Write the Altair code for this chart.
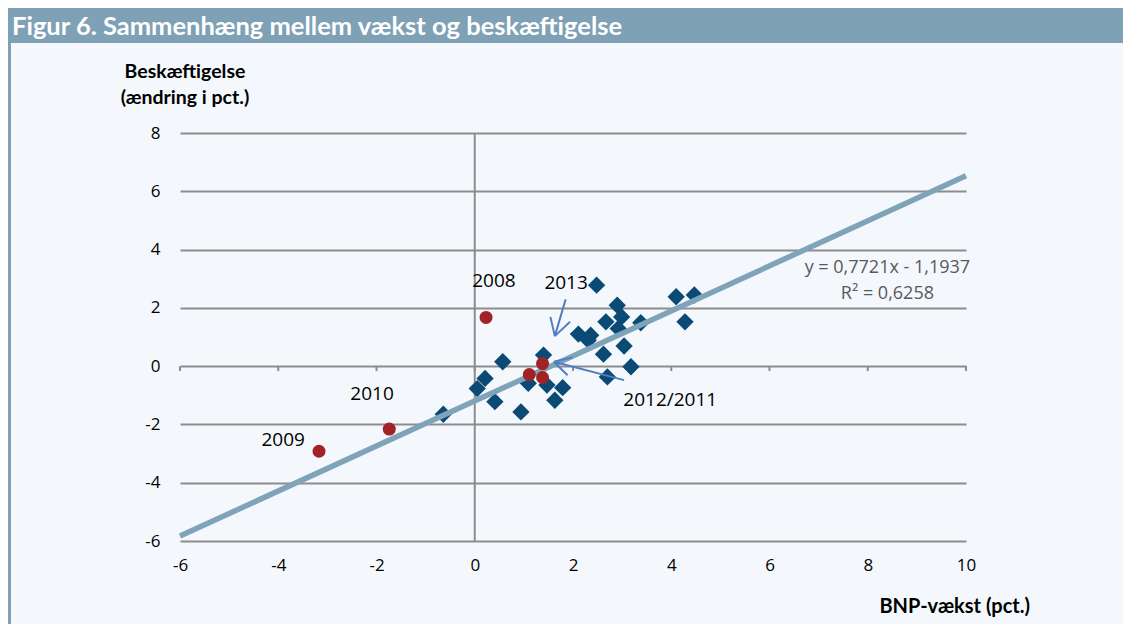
import altair as alt
import pandas as pd

# ---- data ----
blue_x = [-0.64, 0.05, 0.21, 0.41, 0.57, 0.94, 1.09, 1.40, 1.47, 1.63, 1.79, 2.11, 2.36, 2.31,
          2.48, 2.62, 2.67, 2.70, 2.90, 2.99, 2.92, 3.04, 3.18, 3.38, 4.10, 4.47, 4.28]
blue_y = [-1.65, -0.77, -0.42, -1.22, 0.15, -1.57, -0.59, 0.38, -0.65, -1.17, -0.74, 1.10, 1.06, 0.89,
          2.78, 0.41, 1.52, -0.37, 2.09, 1.69, 1.29, 0.69, -0.02, 1.49, 2.38, 2.44, 1.52]

red_x = [0.23, -3.17, -1.74, 1.11, 1.38, 1.38]
red_y = [1.67, -2.92, -2.16, -0.29, 0.09, -0.39]

reg_x = [-6, 10]
reg_y = [-5.83, 6.53]

label_text = ["2008", "2013", "2012/2011", "2010", "2009"]
label_x = [0.39, 1.86, 3.98, -2.09, -3.90]
label_y = [2.92, 2.85, -1.17, -0.96, -2.54]

eq_text = ["y = 0,7721x - 1,1937", "R² = 0,6258"]
eq_x = [8.4, 8.4]
eq_y = [3.36, 2.47]

# arrows: segments (x, y) -> (x2, y2)
arrow_x = [1.85, 1.63, 1.63, 3.04, 1.61, 1.61]
arrow_y = [2.29, 1.03, 1.03, -0.48, 0.15, 0.15]
arrow_x2 = [1.63, 1.54, 1.94, 1.61, 1.99, 1.89]
arrow_y2 = [1.03, 1.69, 1.52, 0.15, 0.30, -0.31]

x_ticks = [-6, -4, -2, 0, 2, 4, 6, 8, 10]
y_ticks = [-6, -4, -2, 0, 2, 4, 6, 8]

TITLE = "Figur 6. Sammenhæng mellem vækst og beskæftigelse"
Y_TITLE = ["Beskæftigelse", "(ændring i pct.)"]
X_TITLE = "BNP-vækst (pct.)"

W, H = 786, 408
PAD_L, PAD_T = 172, 125
TOTAL_W, TOTAL_H = 1115, 616

BG = "#f4f8fc"
BAR = "#7fa1b6"
GRID = "#8c8c8c"
NAVY = "#0b4a75"
RED = "#a02326"
REG = "#7fa3b9"
ARROW = "#4f7fc0"
FONT = "Open Sans"

xs = alt.Scale(domain=[-6, 10], nice=False, zero=False)
ys = alt.Scale(domain=[-6, 8], nice=False, zero=False)

blue_df = pd.DataFrame({"x": blue_x, "y": blue_y})
red_df = pd.DataFrame({"x": red_x, "y": red_y})
reg_df = pd.DataFrame({"x": reg_x, "y": reg_y})
lab_df = pd.DataFrame({"t": label_text, "x": label_x, "y": label_y})
eq_df = pd.DataFrame({"t": eq_text, "x": eq_x, "y": eq_y})
arr_df = pd.DataFrame({"x": arrow_x, "y": arrow_y, "x2": arrow_x2, "y2": arrow_y2})
tick_df = pd.DataFrame({"x": x_ticks})
one = pd.DataFrame({"a": [0]})

base_axes = alt.Chart(blue_df).mark_point(opacity=0).encode(
    x=alt.X("x:Q", scale=xs, title=None,
            axis=alt.Axis(values=x_ticks, grid=False, domain=False, ticks=False,
                          labelFlush=False, labelExpr="'' + datum.value",
                          labelPadding=16, labelFontSize=17, labelFont=FONT,
                          labelColor="#000000")),
    y=alt.Y("y:Q", scale=ys, title=None,
            axis=alt.Axis(values=y_ticks, grid=True, gridColor=GRID, gridWidth=2,
                          domain=False, ticks=False, labelPadding=20, labelFontSize=17,
                          labelExpr="'' + datum.value", labelFlush=False,
                          labelFont=FONT, labelColor="#000000")),
)

vline = alt.Chart(one).mark_rule(color=GRID, strokeWidth=2).encode(
    x=alt.datum(0, scale=xs), y=alt.datum(-6, scale=ys), y2=alt.datum(8))

zero_ticks = alt.Chart(tick_df).mark_rule(color=GRID, strokeWidth=2).encode(
    x=alt.X("x:Q", scale=xs), y=alt.datum(0, scale=ys), y2=alt.datum(-0.17))

blue = alt.Chart(blue_df).mark_point(shape="diamond", filled=True, size=300,
                                     color=NAVY, opacity=1).encode(
    x=alt.X("x:Q", scale=xs), y=alt.Y("y:Q", scale=ys))

reg = alt.Chart(reg_df).mark_line(color=REG, strokeWidth=5.5).encode(
    x=alt.X("x:Q", scale=xs), y=alt.Y("y:Q", scale=ys))

red = alt.Chart(red_df).mark_circle(size=170, color=RED, opacity=1).encode(
    x=alt.X("x:Q", scale=xs), y=alt.Y("y:Q", scale=ys))

arrows = alt.Chart(arr_df).mark_rule(color=ARROW, strokeWidth=2).encode(
    x=alt.X("x:Q", scale=xs), y=alt.Y("y:Q", scale=ys), x2="x2:Q", y2="y2:Q")

labels = alt.Chart(lab_df).mark_text(fontSize=19, font=FONT, color="#000000",
                                     align="center", baseline="middle").encode(
    x=alt.X("x:Q", scale=xs), y=alt.Y("y:Q", scale=ys), text="t:N")

eq = alt.Chart(eq_df).mark_text(fontSize=18, font=FONT, color="#595959",
                                align="center", baseline="middle").encode(
    x=alt.X("x:Q", scale=xs), y=alt.Y("y:Q", scale=ys), text="t:N")

title_bar = alt.Chart(one).mark_rect(color=BAR).encode(
    x=alt.value(-PAD_L), x2=alt.value(TOTAL_W - PAD_L),
    y=alt.value(-PAD_T), y2=alt.value(35 - PAD_T))

left_border = alt.Chart(one).mark_rect(color=BAR).encode(
    x=alt.value(-PAD_L), x2=alt.value(3 - PAD_L),
    y=alt.value(35 - PAD_T), y2=alt.value(TOTAL_H - PAD_T))

title_txt = alt.Chart(one).mark_text(text=TITLE, font="Lato", fontWeight="bold",
                                     fontSize=25.5, color="#ffffff", align="left",
                                     baseline="middle").encode(
    x=alt.value(4 - PAD_L), y=alt.value(19 - PAD_T))

ytitle1 = alt.Chart(one).mark_text(text=Y_TITLE[0], font="Lato", fontWeight="bold",
                                   fontSize=19.5, color="#000000", align="center",
                                   baseline="middle").encode(
    x=alt.value(5), y=alt.value(-61))
ytitle2 = alt.Chart(one).mark_text(text=Y_TITLE[1], font="Lato", fontWeight="bold",
                                   fontSize=19.5, color="#000000", align="center",
                                   baseline="middle").encode(
    x=alt.value(5), y=alt.value(-35))
xtitle = alt.Chart(one).mark_text(text=X_TITLE, font="Lato", fontWeight="bold",
                                  fontSize=20, color="#000000", align="right",
                                  baseline="middle").encode(
    x=alt.value(850), y=alt.value(474))

chart = alt.layer(
    title_bar, left_border, title_txt, base_axes, vline, zero_ticks, blue, reg, red,
    arrows, labels, eq, ytitle1, ytitle2, xtitle
).properties(
    width=W, height=H,
    autosize=alt.AutoSizeParams(type="none"),
    padding={"left": PAD_L, "top": PAD_T, "right": TOTAL_W - PAD_L - W,
             "bottom": TOTAL_H - PAD_T - H},
    background=BG,
).configure_view(stroke=None)

chart.save("out.html", embed_options={"renderer": "svg", "actions": False})
